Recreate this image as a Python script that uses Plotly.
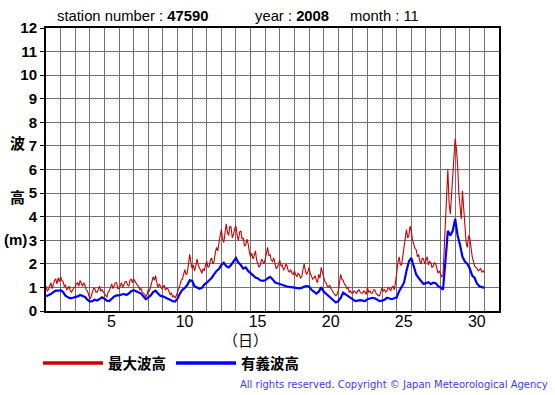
import plotly.graph_objects as go

# hours since 1 Nov 2008 00:00
hours_max = list(range(0, 721, 2))   # 2-hourly samples
hours_sig = list(range(0, 721, 4))   # 4-hourly samples

# 最大波高 (max wave height, m)
max_wave = [
    1.05, 0.85, 0.90, 1.10, 1.20, 0.95, 1.10, 1.30, 1.35, 1.15, 1.40, 1.25,
    1.45, 1.30, 1.25, 1.05, 1.10, 0.90, 0.95, 1.05, 0.85, 0.80, 0.90, 1.00,
    1.00, 1.15, 1.20, 1.05, 1.30, 1.15, 1.05, 1.20, 1.10, 0.90, 0.85, 0.70,
    0.50, 0.60, 0.75, 0.95, 0.95, 0.80, 0.80, 0.95, 1.05, 0.85, 0.90, 0.80,
    0.75, 0.65, 0.60, 0.80, 0.85, 1.00, 1.15, 0.95, 1.05, 1.20, 1.20, 0.95,
    0.95, 1.10, 1.20, 1.00, 1.10, 1.25, 1.25, 1.10, 1.05, 1.30, 1.35, 1.20,
    1.35, 1.25, 1.20, 1.10, 1.05, 0.90, 0.95, 0.80, 0.75, 0.70, 0.60, 0.70,
    0.90, 0.85, 1.05, 1.25, 1.45, 1.30, 1.50, 1.20, 1.00, 1.15, 1.05, 0.95,
    1.00, 1.10, 0.90, 0.95, 0.95, 0.80, 0.70, 0.75, 0.60, 0.65, 0.55, 0.65,
    0.85, 0.95, 1.10, 1.30, 1.35, 1.60, 1.75, 1.55, 1.60, 2.00, 2.40, 2.05,
    1.80, 1.95, 1.70, 1.90, 2.20, 1.95, 1.85, 1.70, 1.60, 1.80, 1.70, 1.95,
    2.10, 1.85, 1.90, 2.15, 2.25, 2.00, 2.10, 2.45, 2.70, 2.55, 2.95, 3.20,
    3.45, 3.05, 2.90, 3.30, 3.70, 3.35, 3.20, 3.60, 3.55, 3.10, 3.25, 3.50,
    3.60, 3.20, 3.00, 3.35, 3.40, 3.05, 3.10, 2.75, 2.80, 3.05, 2.85, 2.50,
    2.30, 2.45, 2.20, 2.35, 2.55, 2.15, 2.00, 1.85, 1.95, 2.20, 2.10, 2.00,
    2.20, 2.45, 2.70, 2.35, 2.40, 2.15, 2.10, 2.25, 2.00, 1.80, 1.85, 2.05,
    2.15, 1.90, 1.95, 1.75, 1.80, 2.00, 1.90, 1.70, 1.65, 1.75, 1.60, 1.55,
    1.70, 1.55, 1.45, 1.60, 1.55, 1.40, 1.45, 1.75, 2.00, 1.70, 1.55, 1.65,
    1.85, 1.60, 1.50, 1.35, 1.40, 1.50, 1.30, 1.20, 1.55, 1.40, 1.85, 1.60,
    1.40, 1.25, 1.20, 1.05, 1.00, 1.10, 0.95, 0.85, 0.75, 0.70, 0.65, 0.70,
    0.85, 1.20, 1.55, 1.35, 1.30, 1.15, 1.10, 0.95, 1.00, 0.80, 0.85, 0.75,
    0.75, 0.85, 0.80, 0.75, 0.85, 0.90, 0.80, 0.75, 0.75, 0.85, 0.80, 0.70,
    1.00, 0.80, 0.85, 0.75, 0.75, 0.90, 0.90, 0.75, 0.70, 0.65, 0.65, 0.80,
    1.00, 0.85, 0.90, 0.80, 0.85, 1.00, 0.95, 0.85, 1.00, 1.05, 0.90, 1.20,
    1.70, 2.05, 2.30, 1.95, 1.95, 2.35, 2.70, 3.05, 3.45, 3.10, 3.20, 3.60,
    3.40, 3.00, 2.85, 2.65, 2.60, 2.30, 2.40, 2.10, 2.00, 2.25, 2.20, 2.00,
    2.15, 2.30, 1.95, 2.10, 2.05, 1.85, 1.90, 2.05, 2.00, 1.75, 1.60, 1.70,
    1.60, 1.45, 1.50, 2.60, 3.90, 5.00, 6.00, 4.60, 4.10, 4.90, 5.60, 6.40,
    7.30, 6.90, 6.20, 5.00, 4.50, 3.90, 5.10, 4.20, 3.40, 2.90, 2.70, 3.20,
    3.10, 2.60, 2.30, 2.10, 1.90, 1.85, 1.80, 1.70, 1.75, 1.80, 1.65, 1.70,
    1.62,
]

# 有義波高 (significant wave height, m)
sig_wave = [
    0.62, 0.66, 0.72, 0.80, 0.86, 0.86,
    0.88, 0.80, 0.65, 0.58, 0.54, 0.56,
    0.58, 0.62, 0.68, 0.64, 0.60, 0.48,
    0.40, 0.42, 0.48, 0.44, 0.52, 0.58,
    0.52, 0.44, 0.42, 0.50, 0.62, 0.66,
    0.66, 0.70, 0.72, 0.68, 0.74, 0.84,
    0.88, 0.84, 0.80, 0.74, 0.62, 0.50,
    0.58, 0.66, 0.80, 0.86, 0.74, 0.64,
    0.62, 0.56, 0.52, 0.48, 0.42, 0.40,
    0.52, 0.74, 0.90, 0.98, 1.10, 1.30,
    1.28, 1.05, 1.00, 0.94, 0.98, 1.12,
    1.20, 1.30, 1.40, 1.55, 1.70, 1.78,
    1.95, 2.05, 1.90, 1.85, 1.95, 2.10,
    2.25, 2.05, 1.95, 1.80, 1.85, 1.70,
    1.62, 1.50, 1.42, 1.38, 1.30, 1.28,
    1.30, 1.38, 1.45, 1.35, 1.22, 1.18,
    1.14, 1.10, 1.06, 1.04, 1.02, 1.00,
    1.00, 0.98, 0.96, 0.98, 1.04, 1.06,
    1.04, 0.90, 0.80, 0.74, 0.82, 1.00,
    0.82, 0.72, 0.62, 0.56, 0.45, 0.36,
    0.42, 0.55, 0.78, 0.70, 0.62, 0.56,
    0.46, 0.42, 0.44, 0.46, 0.44, 0.42,
    0.50, 0.52, 0.56, 0.54, 0.46, 0.42,
    0.44, 0.48, 0.56, 0.52, 0.50, 0.54,
    0.58, 0.84, 1.00, 1.20, 1.70, 2.10,
    2.25, 1.85, 1.55, 1.40, 1.28, 1.15,
    1.18, 1.22, 1.14, 1.20, 1.18, 1.05,
    1.00, 0.90, 2.10, 3.40, 3.20, 3.40,
    3.90, 3.20, 2.80, 2.30, 2.10, 2.00,
    1.80, 1.50, 1.40, 1.15, 1.05, 1.00,
    0.98,
]

series_names = ["最大波高", "有義波高"]
series_colors = ["#cc0000", "#0000ff"]

day_ticks = list(range(0, 32))
day_labels = ["5", "10", "15", "20", "25", "30"]
y_ticks = list(range(0, 13))

x_max = [h / 24 for h in hours_max]
x_sig = [h / 24 for h in hours_sig]
tick_text = [str(d + 1) if str(d + 1) in day_labels else "" for d in day_ticks]

FONT = "Liberation Sans, Arial, sans-serif"
CJK = "Noto Sans CJK JP, sans-serif"

W, H = 555, 395
L, R, T, B = 46, 56, 28, 84
pw, ph = W - L - R, H - T - B


def px(x):
    return (x - L) / pw


def py(y):
    return (H - B - y) / ph


fig = go.Figure()
fig.add_trace(go.Scatter(x=x_max, y=max_wave, mode="lines", name=series_names[0],
                         legendgroup="max", showlegend=False,
                         line=dict(color=series_colors[0], width=1.1)))
fig.add_trace(go.Scatter(x=x_sig, y=sig_wave, mode="lines", name=series_names[1],
                         legendgroup="sig", showlegend=False,
                         line=dict(color=series_colors[1], width=2.2)))
# legend keys (thick sample lines, no data)
for nm, col, grp in zip(series_names, series_colors, ["max", "sig"]):
    fig.add_trace(go.Scatter(x=[None], y=[None], mode="lines", name=nm, legendgroup=grp,
                             line=dict(color=col, width=3.5)))

anns = [
    dict(text="station number : <b>47590</b>", x=px(55), y=py(16), xanchor="left", yanchor="middle",
         font=dict(size=14.8, family=FONT)),
    dict(text="year : <b>2008</b>", x=px(253), y=py(16), xanchor="left", yanchor="middle",
         font=dict(size=14.8, family=FONT)),
    dict(text="month : 11", x=px(348), y=py(16), xanchor="left", yanchor="middle",
         font=dict(size=14.8, family=FONT)),
    dict(text="<b>波</b>", x=px(17), y=py(142), xanchor="center", yanchor="middle",
         font=dict(size=15, family=CJK)),
    dict(text="<b>高</b>", x=px(17), y=py(196), xanchor="center", yanchor="middle",
         font=dict(size=15, family=CJK)),
    dict(text="<b>(m)</b>", x=px(15), y=py(239), xanchor="center", yanchor="middle",
         font=dict(size=15, family=FONT)),
    dict(text="（日）", x=px(245), y=py(339), xanchor="center", yanchor="middle",
         font=dict(size=15, family=CJK)),
    dict(text="All rights reserved. Copyright © Japan Meteorological Agency", x=px(550), y=py(384),
         xanchor="right", yanchor="middle", font=dict(size=10, family="DejaVu Sans", color="#3a3aff")),
]
for a in anns:
    a.update(xref="paper", yref="paper", showarrow=False)

fig.update_layout(
    width=W, height=H,
    margin=dict(l=L, r=R, t=T, b=B, autoexpand=False),
    paper_bgcolor="white", plot_bgcolor="white",
    font=dict(family=FONT, color="black"),
    showlegend=True,
    legend=dict(orientation="h", x=px(38), y=py(347), xanchor="left", yanchor="top",
                font=dict(family=CJK, size=14.5, color="black", weight="bold"),
                itemwidth=60, entrywidth=58, tracegroupgap=0, bgcolor="rgba(0,0,0,0)",
                itemclick=False, itemdoubleclick=False),
    xaxis=dict(range=[0, 31], tickmode="array", tickvals=day_ticks, ticktext=tick_text,
               ticklabelshift=7, ticklabelstandoff=-5, showgrid=True, gridcolor="#707070",
               gridwidth=1, showline=True, linecolor="black", linewidth=2, mirror=True,
               ticks="", tickfont=dict(size=16, family=FONT), zeroline=False, fixedrange=True,
               automargin=False),
    yaxis=dict(range=[0, 12], tickmode="array", tickvals=y_ticks,
               showgrid=True, gridcolor="#707070", gridwidth=1,
               showline=True, linecolor="black", linewidth=2, mirror=True,
               ticks="outside", ticklen=4, tickcolor="black",
               tickfont=dict(size=15, family=FONT, weight="bold"), zeroline=False,
               fixedrange=True, automargin=False),
    annotations=anns,
)

fig.write_html("out.html", config={"displayModeBar": False},
               post_script="document.body.style.margin='0px';")
